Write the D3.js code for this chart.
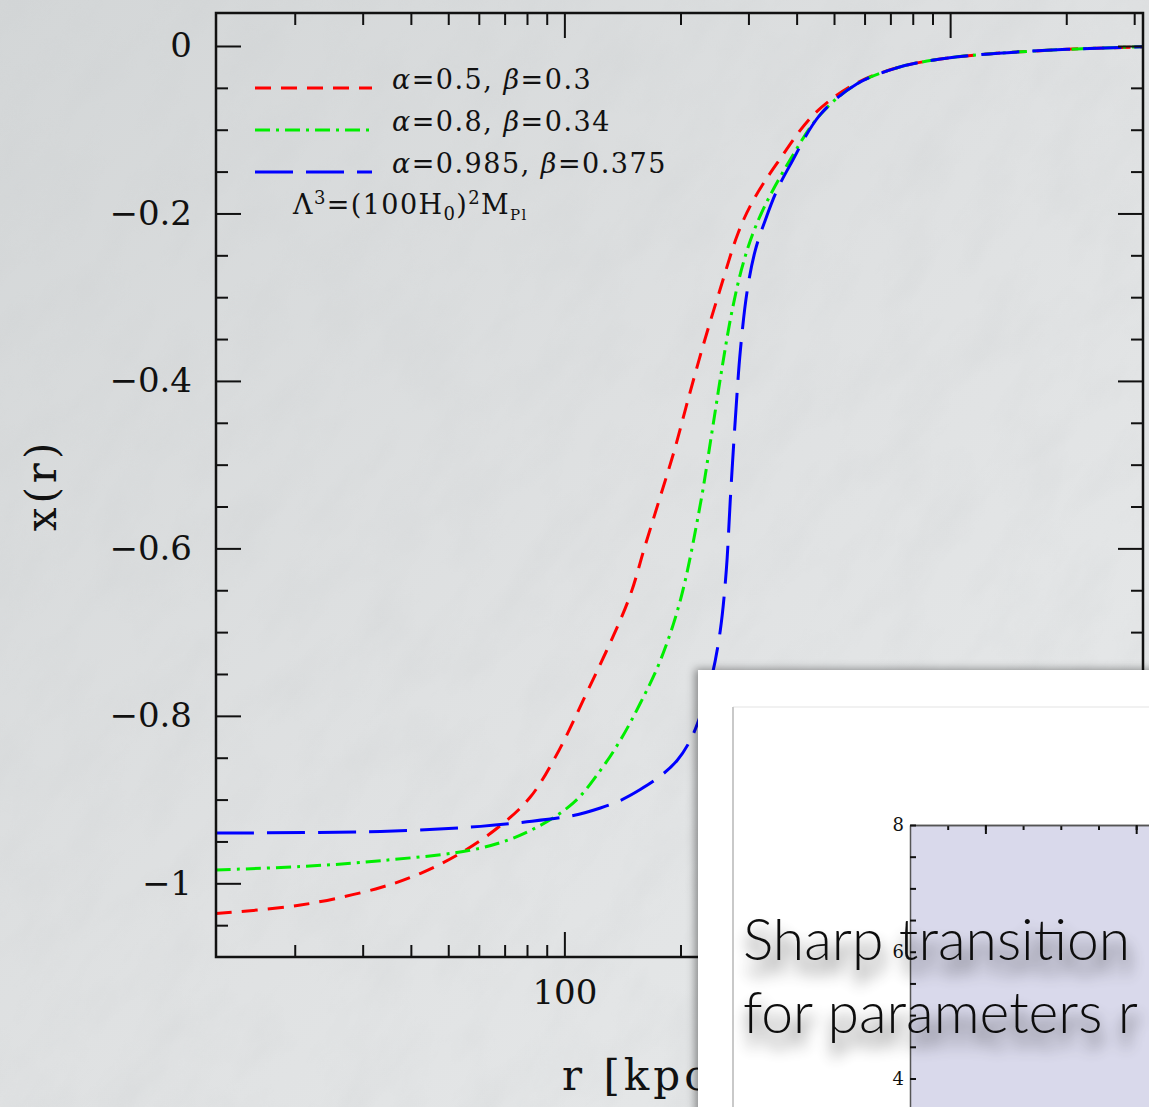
<!DOCTYPE html>
<html>
<head>
<meta charset="utf-8">
<script src="https://cdn.jsdelivr.net/npm/d3@7"></script>
<style>
  html, body { margin: 0; padding: 0; background: #e0e2e3; overflow: hidden; }
  svg { display: block; }
  .tick line { stroke: #111; stroke-width: 2; }
  .tick text { fill: #111; font-family: 'DejaVu Serif', serif; }
</style>
</head>
<body>
<svg id="slide"></svg>
<script>
/* values: r in kpc, x(r) dimensionless */
const rRed = [12.5, 20.7, 33.4, 42.4, 53.8, 68.3, 81.6, 94.8, 112, 146.5, 162.1, 177.3, 192.8, 209.6, 229.2, 253.6, 282.3, 309, 356, 447, 574, 729, 872, 1150, 2010, 3160];
const xRed = [-1.036, -1.026, -1.005, -0.988, -0.964, -0.931, -0.897, -0.849, -0.781, -0.662, -0.596, -0.538, -0.483, -0.421, -0.357, -0.290, -0.223, -0.184, -0.140, -0.080, -0.044, -0.026, -0.018, -0.011, -0.004, -0.001];

const rGreen = [12.5, 20.7, 33.4, 60.6, 81.6, 105.5, 124, 139.7, 157.3, 177.3, 199.8, 225, 241.7, 257, 270.8, 287.4, 306.9, 331.7, 378, 460.5, 574, 729, 872, 1150, 2010, 3160];
const xGreen = [-0.984, -0.980, -0.973, -0.958, -0.937, -0.904, -0.865, -0.829, -0.785, -0.734, -0.662, -0.548, -0.459, -0.381, -0.321, -0.268, -0.226, -0.190, -0.142, -0.082, -0.045, -0.026, -0.018, -0.011, -0.004, -0.001];

const rBlue = [12.5, 33.4, 60.6, 78.3, 105.5, 124, 139.7, 157.3, 177.3, 196.2, 212.1, 227.8, 241.7, 253.6, 262.9, 269.2, 277.3, 286, 297.9, 312.5, 331.7, 356, 385, 460.5, 574, 729, 872, 1150, 2010, 3160];
const xBlue = [-0.940, -0.938, -0.932, -0.927, -0.919, -0.910, -0.901, -0.888, -0.872, -0.853, -0.829, -0.793, -0.751, -0.698, -0.626, -0.542, -0.447, -0.363, -0.292, -0.244, -0.208, -0.172, -0.142, -0.082, -0.045, -0.026, -0.018, -0.011, -0.004, -0.001];

const legendLabels = [
  ['α', '=0.5, ', 'β', '=0.3'],
  ['α', '=0.8, ', 'β', '=0.34'],
  ['α', '=0.985, ', 'β', '=0.375']
];
const yTickValues = [0, -0.2, -0.4, -0.6, -0.8, -1];
const xTickValues = [100, 1000];
const xTickLabels = [100];
const insetYTicks = [8, 6, 4];

const W = 1149;
const H = 1107;
const frame = { left: 216, top: 13, right: 1143, bottom: 957 };
const STROKE_WIDTH = 3;

const series = [
  { r: rRed, v: xRed, color: '#ff0000', dash: '16 10' },
  { r: rGreen, v: xGreen, color: '#00ee00', dash: '15 6 3 6' },
  { r: rBlue, v: xBlue, color: '#0000ff', dash: '38 13' }
];

const svg = d3.select('#slide').attr('width', W).attr('height', H);
const defs = svg.append('defs');

// background: grey stone-like slide texture
const grad = defs.append('linearGradient').attr('id', 'bg').attr('x1', 0).attr('y1', 0).attr('x2', 1).attr('y2', 1);
grad.append('stop').attr('offset', 0).attr('stop-color', '#d3d6d7');
grad.append('stop').attr('offset', 0.5).attr('stop-color', '#dfe1e2');
grad.append('stop').attr('offset', 1).attr('stop-color', '#e8eaeb');

const grain = defs.append('filter').attr('id', 'grain').attr('x', 0).attr('y', 0).attr('width', 1).attr('height', 1);
grain.append('feTurbulence').attr('type', 'fractalNoise').attr('baseFrequency', '0.02 0.045').attr('numOctaves', 4).attr('seed', 7);
grain.append('feColorMatrix').attr('type', 'matrix')
  .attr('values', '0 0 0 0 0.6  0 0 0 0 0.62  0 0 0 0 0.63  0 0 0 1.3 -0.5');

const panelShadow = defs.append('filter').attr('id', 'panelShadow').attr('x', -0.1).attr('y', -0.1).attr('width', 1.3).attr('height', 1.3);
panelShadow.append('feDropShadow').attr('dx', -3).attr('dy', -1).attr('stdDeviation', 4)
  .attr('flood-color', '#000').attr('flood-opacity', 0.4);

const textShadow = defs.append('filter').attr('id', 'textShadow').attr('x', -0.2).attr('y', -0.3).attr('width', 1.4).attr('height', 1.8);
textShadow.append('feGaussianBlur').attr('in', 'SourceAlpha').attr('stdDeviation', 8).attr('result', 'b');
textShadow.append('feOffset').attr('in', 'b').attr('dx', 2).attr('dy', 14).attr('result', 'o');
textShadow.append('feComponentTransfer').attr('in', 'o').attr('result', 's')
  .append('feFuncA').attr('type', 'linear').attr('slope', 0.8);
const merge = textShadow.append('feMerge');
merge.append('feMergeNode').attr('in', 's');
merge.append('feMergeNode').attr('in', 'SourceGraphic');

svg.append('rect').attr('width', W).attr('height', H).attr('fill', 'url(#bg)');
svg.append('rect').attr('width', W).attr('height', H).attr('filter', 'url(#grain)').attr('opacity', 0.3)
  .attr('transform', `rotate(-55 ${W / 2} ${H / 2}) scale(1.7) translate(-240 -230)`);

/* scales */
const xScale = d3.scaleLog([12.5, 3162], [frame.left, frame.right]);
const yScale = d3.scaleLinear([-1.088, 0.0394], [frame.bottom, frame.top]);

const allX = xScale.ticks().filter((d) => d > 12.5 && d < 3162);
const minorX = allX.filter((d) => !xTickValues.includes(d));
const minorY = d3.range(-105, 1, 5).map((d) => d / 100).filter((d) => !yTickValues.some((t) => Math.abs(t - d) < 1e-9));

const chart = svg.append('g');

/* render data */
const line = d3.line()
  .x((d) => xScale(d[0]))
  .y((d) => yScale(d[1]))
  .curve(d3.curveCatmullRom.alpha(0.5));

chart.append('g')
  .selectAll('path')
  .data(series)
  .enter()
  .append('path')
  .attr('fill', 'none')
  .attr('stroke', (d) => d.color)
  .attr('stroke-width', STROKE_WIDTH)
  .attr('stroke-dasharray', (d) => d.dash)
  .attr('d', (d) => line(d.r.map((r, i) => [r, d.v[i]])));

/* axes: ticks point inward on all four sides */
function cleanAxis(g) {
  g.select('.domain').remove();
}

chart.append('g')
  .attr('transform', `translate(0, ${frame.bottom})`)
  .call(d3.axisBottom(xScale).tickValues(minorX).tickSize(-12).tickFormat(''))
  .call(cleanAxis);
chart.append('g')
  .attr('transform', `translate(0, ${frame.bottom})`)
  .call(d3.axisBottom(xScale).tickValues(xTickValues).tickSize(-25).tickPadding(23)
    .tickFormat((d) => (xTickLabels.includes(d) ? d3.format('d')(d) : '')))
  .call(cleanAxis)
  .selectAll('text').attr('font-size', 34);
chart.append('g')
  .attr('transform', `translate(0, ${frame.top})`)
  .call(d3.axisTop(xScale).tickValues(minorX).tickSize(-12).tickFormat(''))
  .call(cleanAxis);
chart.append('g')
  .attr('transform', `translate(0, ${frame.top})`)
  .call(d3.axisTop(xScale).tickValues(xTickValues).tickSize(-25).tickFormat(''))
  .call(cleanAxis);

chart.append('g')
  .attr('transform', `translate(${frame.left}, 0)`)
  .call(d3.axisLeft(yScale).tickValues(minorY).tickSize(-12).tickFormat(''))
  .call(cleanAxis);
chart.append('g')
  .attr('transform', `translate(${frame.left}, 0)`)
  .call(d3.axisLeft(yScale).tickValues(yTickValues).tickSize(-25).tickPadding(24)
    .tickFormat((d) => (d === 0 ? '0' : d3.format('~g')(d))))
  .call(cleanAxis)
  .selectAll('text').attr('font-size', 34);
chart.append('g')
  .attr('transform', `translate(${frame.right}, 0)`)
  .call(d3.axisRight(yScale).tickValues(minorY).tickSize(-12).tickFormat(''))
  .call(cleanAxis);
chart.append('g')
  .attr('transform', `translate(${frame.right}, 0)`)
  .call(d3.axisRight(yScale).tickValues(yTickValues).tickSize(-25).tickFormat(''))
  .call(cleanAxis);

chart.append('rect')
  .attr('x', frame.left)
  .attr('y', frame.top)
  .attr('width', frame.right - frame.left)
  .attr('height', frame.bottom - frame.top)
  .attr('fill', 'none')
  .attr('stroke', '#111')
  .attr('stroke-width', 2.5);

/* axis titles */
chart.append('text')
  .attr('x', 562)
  .attr('y', 1090)
  .attr('font-family', 'DejaVu Serif, serif')
  .attr('font-size', 42)
  .attr('letter-spacing', 4)
  .attr('fill', '#111')
  .text('r [kpc]');

chart.append('text')
  .attr('transform', 'translate(56, 485) rotate(-90)')
  .attr('text-anchor', 'middle')
  .attr('font-family', 'DejaVu Serif, serif')
  .attr('font-size', 42)
  .attr('letter-spacing', 4)
  .attr('fill', '#111')
  .text('x(r)');

/* legend */
const legendG = chart.append('g');
const LEGEND_Y = [88, 130, 172];
legendLabels.forEach((parts, i) => {
  legendG.append('line')
    .attr('x1', 255).attr('x2', 372)
    .attr('y1', LEGEND_Y[i]).attr('y2', LEGEND_Y[i])
    .attr('stroke', series[i].color)
    .attr('stroke-width', STROKE_WIDTH)
    .attr('stroke-dasharray', series[i].dash);
  const t = legendG.append('text')
    .attr('x', 392)
    .attr('y', LEGEND_Y[i] + 1)
    .attr('font-family', 'DejaVu Serif, serif')
    .attr('font-size', 27)
    .attr('letter-spacing', 1.5)
    .attr('fill', '#111')
    .attr('xml:space', 'preserve');
  parts.forEach((p, j) => {
    t.append('tspan').attr('font-style', j % 2 === 0 ? 'italic' : 'normal').text(p);
  });
});

const lam = legendG.append('text')
  .attr('x', 293)
  .attr('y', 214)
  .attr('font-family', 'DejaVu Serif, serif')
  .attr('font-size', 27)
  .attr('letter-spacing', 1.4)
  .attr('fill', '#111');
lam.append('tspan').text('Λ');
lam.append('tspan').attr('font-size', 18).attr('dy', -10).text('3');
lam.append('tspan').attr('dy', 10).text('=(100H');
lam.append('tspan').attr('font-size', 18).attr('dy', 6).text('0');
lam.append('tspan').attr('dy', -6).text(')');
lam.append('tspan').attr('font-size', 18).attr('dy', -10).text('2');
lam.append('tspan').attr('dy', 10).text('M');
lam.append('tspan').attr('font-size', 15).attr('dy', 6).text('Pl');

/* overlapping slide panel with second plot */
const panel = svg.append('g');
panel.append('rect')
  .attr('x', 698).attr('y', 670)
  .attr('width', W - 698 + 20).attr('height', H - 670 + 20)
  .attr('fill', '#ffffff')
  .attr('filter', 'url(#panelShadow)');
panel.append('line')
  .attr('x1', 733).attr('x2', W).attr('y1', 707).attr('y2', 707)
  .attr('stroke', '#ececec').attr('stroke-width', 1.5);
panel.append('line')
  .attr('x1', 733).attr('x2', 733).attr('y1', 707).attr('y2', H)
  .attr('stroke', '#c9c9c9').attr('stroke-width', 2);

const inset = { left: 910, top: 825 };
const insetX = d3.scaleLinear([1.5, 3.085], [inset.left, W]);
const insetY = d3.scaleLinear([3.55, 8], [H, inset.top]);

panel.append('rect')
  .attr('x', inset.left).attr('y', inset.top)
  .attr('width', W - inset.left).attr('height', H - inset.top)
  .attr('fill', '#d9d9eb');

const insetAxisStyle = (g) => {
  g.select('.domain').attr('stroke', '#555').attr('stroke-width', 1.5);
  g.selectAll('.tick line').attr('stroke', '#555').attr('stroke-width', 1.2);
  g.selectAll('.tick text')
    .attr('font-family', 'Liberation Serif, serif')
    .attr('font-size', 18)
    .attr('fill', '#222');
};

panel.append('g')
  .attr('transform', `translate(0, ${inset.top})`)
  .call(d3.axisTop(insetX).tickValues(d3.range(1.75, 3.01, 0.25)).tickSize(-5).tickFormat('').tickSizeOuter(0))
  .call(insetAxisStyle);
panel.append('g')
  .attr('transform', `translate(0, ${inset.top})`)
  .call(d3.axisTop(insetX).tickValues([2, 3]).tickSize(-9).tickFormat('').tickSizeOuter(0))
  .call(insetAxisStyle);
panel.append('g')
  .attr('transform', `translate(${inset.left}, 0)`)
  .call(d3.axisLeft(insetY).tickValues(d3.range(4, 8.01, 0.5)).tickSize(-6).tickPadding(6)
    .tickFormat((d) => (insetYTicks.includes(d) ? d : '')).tickSizeOuter(0))
  .call(insetAxisStyle);

const caption = panel.append('g')
  .attr('filter', 'url(#textShadow)')
  .attr('font-family', 'Lato, sans-serif')
  .attr('font-weight', 300)
  .attr('font-size', 57)
  .attr('fill', '#111');
caption.append('text').attr('x', 743).attr('y', 960).text('Sharp transition');
caption.append('text').attr('x', 743).attr('y', 1033).text('for parameters r');
</script>
</body>
</html>
